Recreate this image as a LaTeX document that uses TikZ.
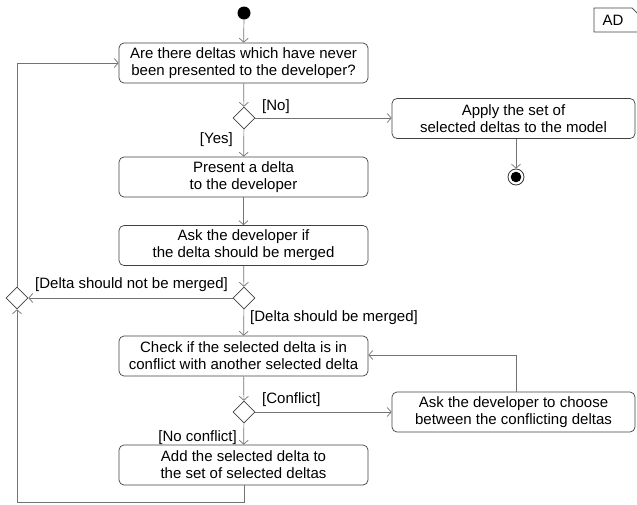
\documentclass[tikz,border=0pt]{standalone}
\usepackage{fontspec}
\setmainfont{Liberation Sans}
\usetikzlibrary{arrows.meta,shapes.geometric}
\tikzset{
  act/.style={draw=black!75, line width=0.7pt, rounded corners=5pt, align=center,
    minimum height=40pt, inner sep=0pt, font=\fontsize{15}{17}\selectfont},
  dec/.style={draw=black!75, line width=0.7pt, diamond, minimum width=22pt, minimum height=22pt, inner sep=0pt},
  flow/.style={draw=black!55, line width=0.7pt, -{Straight Barb[length=4pt,width=9pt]}},
  plain/.style={draw=black!55, line width=0.7pt},
  lbl/.style={inner sep=0pt, font=\fontsize{15}{17}\selectfont},
}
\begin{document}
\begin{tikzpicture}[x=1pt,y=-1pt]
\useasboundingbox (0,0) rectangle (637,504);
% start / end
\node[circle, fill=black, minimum size=13pt, inner sep=0pt] (start) at (244,13) {};
\node[circle, draw=black!80, line width=0.8pt, minimum size=16pt, inner sep=0pt] (final) at (516,177) {};
\fill[black] (final.center) circle (5.3pt);
% activities
\node[act, minimum width=249pt] (b1) at (243.5,63) {Are there deltas which have never\\been presented to the developer?};
\node[act, minimum width=249pt] (b2) at (243.5,177) {Present a delta\\to the developer};
\node[act, minimum width=249pt] (b3) at (243.5,245.5) {Ask the developer if\\the delta should be merged};
\node[act, minimum width=249pt] (b4) at (243.5,356) {Check if the selected delta is in\\conflict with another selected delta};
\node[act, minimum width=249pt] (b6) at (243.5,465) {Add the selected delta to\\the set of selected deltas};
\node[act, minimum width=243pt] (apply) at (513.5,118.5) {Apply the set of\\selected deltas to the model};
\node[act, minimum width=243pt] (b5) at (513.5,412) {Ask the developer to choose\\between the conflicting deltas};
% decisions
\node[dec] (d1) at (244,118) {};
\node[dec] (d2) at (244,298) {};
\node[dec] (d3) at (244,412) {};
\node[dec] (dl) at (17,298) {};
% frame tag
\draw[black!75, line width=0.7pt] (594,32) -- (594,8) -- (632,8) -- (638,14) -- (638,32) -- cycle;
\node[lbl] (ad) at (613,20.5) {AD};
% labels
\node[lbl, anchor=west] (lno) at (262,107) {[No]};
\node[lbl, anchor=east] (lyes) at (233,140) {[Yes]};
\node[lbl, anchor=west] (lnm) at (35,285) {[Delta should not be merged]};
\node[lbl, anchor=west] (lm) at (250,318) {[Delta should be merged]};
\node[lbl, anchor=west] (lc) at (262,400) {[Conflict]};
\node[lbl, anchor=east] (lnc) at (237,438) {[No conflict]};
% coordinates
\coordinate (bot) at (244,502);
\coordinate (botl) at (17,502);
\coordinate (topl) at (17,63);
\coordinate (ret) at (516,355);
% connectors
\draw[flow] (start) -- (b1);
\draw[flow] (b1) -- (d1);
\draw[flow] (d1.east) -- (apply.west |- d1.east);
\draw[flow] (d1) -- (b2);
\draw[flow] (apply.south -| final) -- (final);
\draw[flow] (b2) -- (b3);
\draw[flow] (b3) -- (d2);
\draw[flow] (d2.west) -- (dl.east);
\draw[flow] (d2) -- (b4);
\draw[flow] (b4) -- (d3);
\draw[flow] (d3.east) -- (b5.west |- d3.east);
\draw[flow] (d3) -- (b6);
\draw[flow] (b5.north -| ret) -- (ret) -- (b4.east |- ret);
\draw[flow] (b6.south -| bot) -- (bot) -- (botl) -- (dl.south);
\draw[flow] (dl.north) -- (topl) -- (b1.west |- topl);
\end{tikzpicture}
\end{document}
